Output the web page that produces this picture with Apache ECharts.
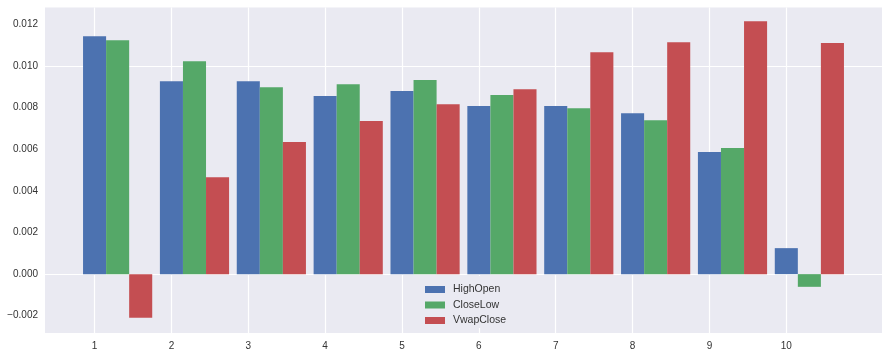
<!DOCTYPE html>
<html><head><meta charset="utf-8">
<script src="https://cdn.jsdelivr.net/npm/echarts@6/dist/echarts.min.js"></script>
<style>html,body{margin:0;padding:0;background:#fff}#c{width:889px;height:357px}</style>
</head><body><div id="c"></div>
<script>
const categories = [1, 2, 3, 4, 5, 6, 7, 8, 9, 10];
const highOpen  = [0.01144, 0.00928, 0.00928, 0.00856, 0.00880, 0.00808, 0.00808, 0.00774, 0.00587, 0.00125];
const closeLow  = [0.01125, 0.01024, 0.00899, 0.00913, 0.00933, 0.00861, 0.00798, 0.00740, 0.00606, -0.00061];
const vwapClose = [-0.00210, 0.00466, 0.00635, 0.00736, 0.00817, 0.00889, 0.01067, 0.01115, 0.01216, 0.01111];
const yTicks = [-0.002, 0.000, 0.002, 0.004, 0.006, 0.008, 0.010, 0.012];
const seriesNames = ['HighOpen', 'CloseLow', 'VwapClose'];
const colors = ['#4C72B0', '#55A868', '#C44E52'];
const barW = 0.3;

const chart = echarts.init(document.getElementById('c'), null, {renderer: 'canvas'});
const font = 'Liberation Sans, Arial, sans-serif';

function barSeries(name, vals, idx) {
  return {
    name: name,
    type: 'custom',
    z: 10,
    itemStyle: {color: colors[idx]},
    data: categories.map((c, i) => [c + idx * barW, vals[i]]),
    encode: {x: 0, y: 1},
    renderItem: function (params, api) {
      const x = api.value(0), v = api.value(1);
      const p0 = api.coord([x - barW / 2, 0]);
      const p1 = api.coord([x + barW / 2, v]);
      return {
        type: 'rect',
        shape: {x: p0[0], y: Math.min(p0[1], p1[1]), width: p1[0] - p0[0], height: Math.abs(p1[1] - p0[1])},
        style: {fill: colors[idx]}
      };
    }
  };
}

const lineStyle = {color: '#ffffff', width: 1.2, type: 'solid'};
const gridSeries = {
  name: '_grid',
  type: 'line',
  data: [],
  z: 1,
  silent: true,
  markLine: {
    z: 1,
    silent: true,
    symbol: ['none', 'none'],
    label: {show: false},
    lineStyle: lineStyle,
    emphasis: {disabled: true},
    animation: false,
    data: categories.map(c => ({xAxis: c})).concat(yTicks.map(t => ({yAxis: t})))
  }
};

chart.setOption({
  animation: false,
  backgroundColor: '#ffffff',
  grid: {left: 45, right: 7, top: 7.5, bottom: 24, show: true, backgroundColor: '#EAEAF2', borderWidth: 0, containLabel: false},
  legend: {
    data: seriesNames,
    orient: 'vertical',
    left: 403,
    top: 276,
    z: 20,
    padding: [8, 10, 2, 22],
    backgroundColor: '#EAEAF2',
    icon: 'rect',
    itemWidth: 20,
    itemHeight: 7,
    itemGap: 4.5,
    textStyle: {fontFamily: font, fontSize: 10.5, color: '#333333', padding: [0, 0, 0, 3]}
  },
  xAxis: {
    type: 'value',
    min: 0.355,
    max: 11.245,
    axisLine: {show: false},
    axisTick: {show: false},
    splitLine: {show: false},
    axisLabel: {customValues: categories, formatter: v => String(Math.round(v)), fontFamily: font, fontSize: 10, color: '#333333', margin: 8}
  },
  yAxis: {
    type: 'value',
    min: -0.00283,
    max: 0.01282,
    axisLine: {show: false},
    axisTick: {show: false},
    splitLine: {show: false},
    axisLabel: {customValues: yTicks, formatter: v => (v < 0 ? '\u22120.' : '0.') + Math.abs(v).toFixed(3).split('.')[1], fontFamily: font, fontSize: 10, color: '#333333', margin: 7}
  },
  series: [gridSeries].concat(seriesNames.map((n, i) => barSeries(n, [highOpen, closeLow, vwapClose][i], i)))
});
</script></body></html>
